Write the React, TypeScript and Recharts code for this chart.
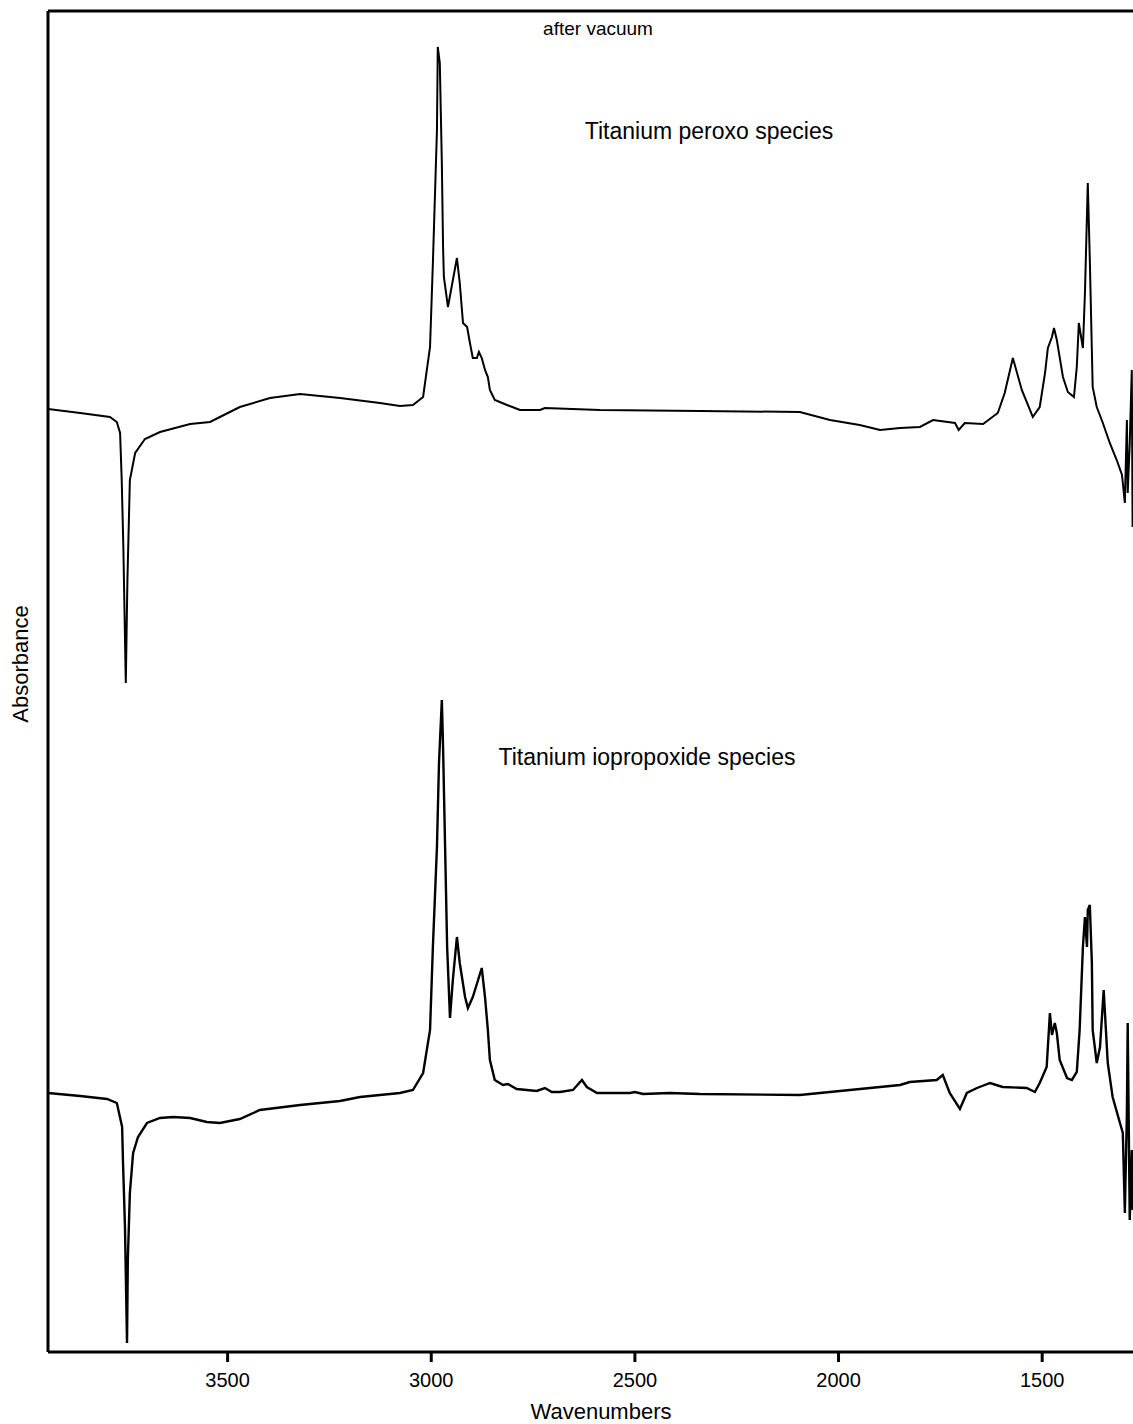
import { Customized, Line, LineChart, ReferenceLine, XAxis, YAxis } from 'recharts'

// upper trace: titanium peroxo species (after vacuum)
const peroxoWn = [
  3941, 3862, 3789, 3772, 3764, 3760, 3756, 3750, 3746, 3740, 3727, 3703, 3666, 3592, 3543, 3519,
  3470, 3396, 3322, 3224, 3126, 3077, 3045, 3020, 3003, 2996, 2986, 2984, 2979, 2974, 2971, 2969,
  2959, 2937, 2930, 2922, 2912, 2905, 2898, 2888, 2883, 2876, 2868, 2861, 2856, 2844, 2814, 2782,
  2733, 2721, 2586, 2340, 2095, 2021, 1948, 1898, 1849, 1800, 1768, 1714, 1705, 1690, 1645, 1609,
  1592, 1572, 1550, 1523, 1506, 1493, 1486, 1476, 1471, 1464, 1449, 1437, 1422, 1415, 1410, 1400,
  1395, 1388, 1383, 1376, 1366, 1351, 1334, 1317, 1304, 1297, 1292, 1290, 1285, 1280, 1278,
]
const peroxoAbs = [
  9.43, 9.39, 9.35, 9.3, 9.19, 8.72, 8.05, 6.69, 7.72, 8.72, 8.99, 9.13, 9.2, 9.28, 9.3, 9.35,
  9.45, 9.54, 9.58, 9.54, 9.49, 9.46, 9.47, 9.55, 10.05, 10.89, 12.22, 13.05, 12.89, 11.89, 11.05, 10.75,
  10.45, 10.94, 10.69, 10.29, 10.25, 10.09, 9.94, 9.94, 10.0, 9.94, 9.82, 9.75, 9.62, 9.52, 9.47, 9.42,
  9.42, 9.44, 9.42, 9.41, 9.4, 9.32, 9.27, 9.22, 9.24, 9.25, 9.32, 9.29, 9.22, 9.29, 9.28, 9.39,
  9.59, 9.94, 9.62, 9.35, 9.45, 9.79, 10.04, 10.15, 10.24, 10.12, 9.75, 9.6, 9.55, 9.85, 10.29, 10.04,
  10.59, 11.69, 10.92, 9.65, 9.45, 9.29, 9.09, 8.92, 8.77, 8.49, 9.32, 8.59, 9.09, 9.82, 8.25,
]

// lower trace: titanium isopropoxide species
const propoxideWn = [
  3941, 3862, 3796, 3772, 3759, 3757, 3752, 3747, 3745, 3740, 3732, 3720, 3698, 3666, 3634, 3592,
  3551, 3519, 3470, 3421, 3322, 3224, 3175, 3126, 3077, 3045, 3020, 3003, 2996, 2986, 2981, 2974,
  2971, 2966, 2961, 2954, 2947, 2937, 2930, 2917, 2910, 2898, 2885, 2876, 2868, 2861, 2856, 2844,
  2824, 2812, 2790, 2741, 2721, 2704, 2684, 2652, 2630, 2618, 2593, 2512, 2500, 2480, 2414, 2340,
  2095, 1849, 1825, 1759, 1744, 1727, 1702, 1685, 1660, 1628, 1597, 1538, 1518, 1506, 1489, 1481,
  1476, 1469, 1464, 1457, 1439, 1427, 1415, 1408, 1400, 1395, 1390, 1388, 1383, 1378, 1376, 1366,
  1358, 1349, 1339, 1327, 1309, 1302, 1297, 1292, 1290, 1285, 1280, 1278,
]
const propoxideAbs = [
  2.59, 2.56, 2.53, 2.49, 2.25, 1.92, 1.25, 0.09, 0.92, 1.59, 1.99, 2.15, 2.29, 2.34, 2.35, 2.34,
  2.3, 2.29, 2.33, 2.42, 2.47, 2.51, 2.55, 2.57, 2.59, 2.62, 2.79, 3.22, 4.05, 5.05, 5.89, 6.52,
  6.05, 5.05, 4.05, 3.34, 3.72, 4.15, 3.89, 3.55, 3.44, 3.55, 3.72, 3.84, 3.55, 3.22, 2.92, 2.72,
  2.67, 2.68, 2.63, 2.61, 2.64, 2.6, 2.6, 2.62, 2.72, 2.65, 2.59, 2.59, 2.6, 2.58, 2.59, 2.58,
  2.57, 2.67, 2.7, 2.72, 2.77, 2.59, 2.43, 2.59, 2.64, 2.69, 2.65, 2.64, 2.6, 2.69, 2.85, 3.39,
  3.17, 3.29, 3.19, 2.92, 2.74, 2.72, 2.8, 3.22, 4.05, 4.35, 4.05, 4.42, 4.47, 3.89, 3.22, 2.89,
  3.05, 3.62, 2.89, 2.55, 2.29, 2.19, 1.39, 2.39, 3.29, 1.32, 2.02, 1.42,
]

const xTicks = [3500, 3000, 2500, 2000, 1500]

const peroxoData = peroxoWn.map((wn, i) => ({ wn, abs: peroxoAbs[i] }))
const propoxideData = propoxideWn.map((wn, i) => ({ wn, abs: propoxideAbs[i] }))

const font = "'Liberation Sans', Arial, Helvetica, sans-serif"

// titles, annotations and axis names
function Notes() {
  return (
    <g fontFamily={font} fill='#000'>
      <text x={598} y={35} fontSize={19} textAnchor='middle'>after vacuum</text>
      <text x={709} y={139} fontSize={23} textAnchor='middle'>Titanium peroxo species</text>
      <text x={647} y={765} fontSize={23} textAnchor='middle'>Titanium iopropoxide species</text>
      <text x={601} y={1419} fontSize={22} textAnchor='middle'>Wavenumbers</text>
      <text x={28} y={664} fontSize={22} textAnchor='middle' transform='rotate(-90 28 664)'>
        Absorbance
      </text>
    </g>
  )
}

export default function App() {
  return (
    <div style={{ position: 'absolute', left: 0, top: 0, background: '#fff' }}>
      <LineChart
        width={1133}
        height={1424}
        margin={{ top: 11, right: 0, left: 0, bottom: 0 }}
        style={{ fontFamily: font }}
      >
        <XAxis
          type='number'
          dataKey='wn'
          domain={[1277, 3941]}
          reversed
          ticks={xTicks}
          allowDataOverflow
          height={72}
          tickSize={10}
          tickMargin={11}
          stroke='#000'
          strokeWidth={3}
          tick={{ fill: '#000', fontSize: 20, fontFamily: font }}
        />
        <YAxis
          type='number'
          domain={[0, 13.41]}
          allowDataOverflow
          width={48}
          tick={false}
          tickLine={false}
          stroke='#000'
          strokeWidth={3}
        />
        <ReferenceLine y={13.41} stroke='#000' strokeWidth={3} />
        <Line
          data={peroxoData}
          dataKey='abs'
          type='linear'
          stroke='#000'
          strokeWidth={2}
          dot={false}
          isAnimationActive={false}
        />
        <Line
          data={propoxideData}
          dataKey='abs'
          type='linear'
          stroke='#000'
          strokeWidth={2.4}
          dot={false}
          isAnimationActive={false}
        />
        <Customized component={Notes} />
      </LineChart>
    </div>
  )
}
